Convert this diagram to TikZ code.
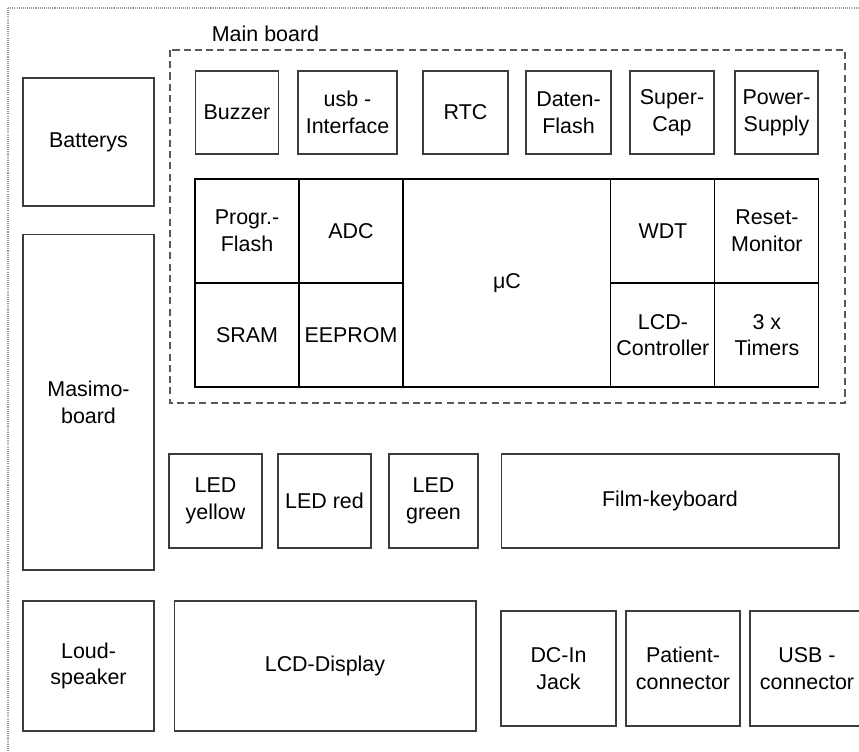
\documentclass[tikz,border=0pt]{standalone}
\usepackage{fontspec}
\setmainfont{Liberation Sans}
\usetikzlibrary{positioning}
\definecolor{boxline}{HTML}{3C3C3C}
\definecolor{framegray}{HTML}{9A9A9A}

\begin{document}
\begin{tikzpicture}[x=0.02cm,y=-0.02cm,
  box/.style={draw=boxline,line width=0.6pt,align=center,inner sep=1pt,font=\fontsize{12.2}{15.2}\selectfont},
  cell/.style={box,draw=black,outer sep=0pt,minimum width=2.08cm,minimum height=2.08cm},
  mbframe/.style={draw=black!65,line width=0.6pt,dash pattern=on 4pt off 2.4pt},
  devframe/.style={draw=framegray,line width=0.6pt,dash pattern=on 0.6pt off 0.6pt}
]
\useasboundingbox (0,0) rectangle (859,751);
\clip (0,0) rectangle (859,751);
\draw[devframe] (8,8) rectangle (880,780);
% left column
\node[box,minimum width=2.62cm,minimum height=2.56cm] (bat) at (88.5,142) {Batterys};
\node[box,minimum width=2.62cm,minimum height=6.72cm] (masimo) at (88.5,402) {Masimo-\\board};
\node[box,minimum width=2.62cm,minimum height=2.6cm] (loud) at (88.5,666) {Loud-\\speaker};
% main board
\draw[mbframe] (170,50) rectangle (845,403);
\node[font=\fontsize{12.2}{15.2}\selectfont,anchor=base,inner sep=0pt] (mblabel) at (265.5,41) {Main board};
\node[box,minimum width=1.66cm,minimum height=1.66cm] (buzzer) at (237,112.5) {Buzzer};
\node[box,minimum width=1.98cm,minimum height=1.66cm] (usbif) at (347.5,112.5) {usb -\\Interface};
\node[box,minimum width=1.70cm,minimum height=1.66cm] (rtc) at (465.5,112.5) {RTC};
\node[box,minimum width=1.70cm,minimum height=1.66cm] (daten) at (568.5,112.5) {Daten-\\Flash};
\node[box,minimum width=1.68cm,minimum height=1.66cm] (supercap) at (672,112.5) {Super-\\Cap};
\node[box,minimum width=1.66cm,minimum height=1.66cm] (power) at (776.5,112.5) {Power-\\Supply};
% controller block
\node[cell] (prog) at (247,231) {Progr.-\\Flash};
\node[cell,right=0pt of prog] (adc) {ADC};
\node[cell,below=0pt of prog] (sram) {SRAM};
\node[cell,right=0pt of sram] (eeprom) {EEPROM};
\node[cell,minimum width=4.16cm,minimum height=4.16cm,anchor=north west] (uc) at (adc.north east) {μC};
\node[cell,anchor=north west] (wdt) at (uc.north east) {WDT};
\node[cell,right=0pt of wdt] (reset) {Reset-\\Monitor};
\node[cell,below=0pt of wdt] (lcdc) {LCD-\\Controller};
\node[cell,right=0pt of lcdc] (timers) {3 x\\Timers};
% front panel
\node[box,minimum width=1.86cm,minimum height=1.88cm] (ledy) at (215.5,501) {LED\\yellow};
\node[box,minimum width=1.86cm,minimum height=1.88cm] (ledr) at (324.5,501) {LED red};
\node[box,minimum width=1.78cm,minimum height=1.88cm] (ledg) at (433.5,501) {LED\\green};
\node[box,minimum width=6.76cm,minimum height=1.88cm] (film) at (670,501) {Film-keyboard};
% bottom row
\node[box,minimum width=6.04cm,minimum height=2.6cm] (lcd) at (325,666) {LCD-Display};
\node[box,minimum width=2.30cm,minimum height=2.30cm] (dcin) at (558.5,668.5) {DC-In\\Jack};
\node[box,minimum width=2.28cm,minimum height=2.30cm] (patient) at (683,668.5) {Patient-\\connector};
\node[box,minimum width=2.28cm,minimum height=2.30cm] (usbc) at (807,668.5) {USB -\\connector};
\end{tikzpicture}
\end{document}
